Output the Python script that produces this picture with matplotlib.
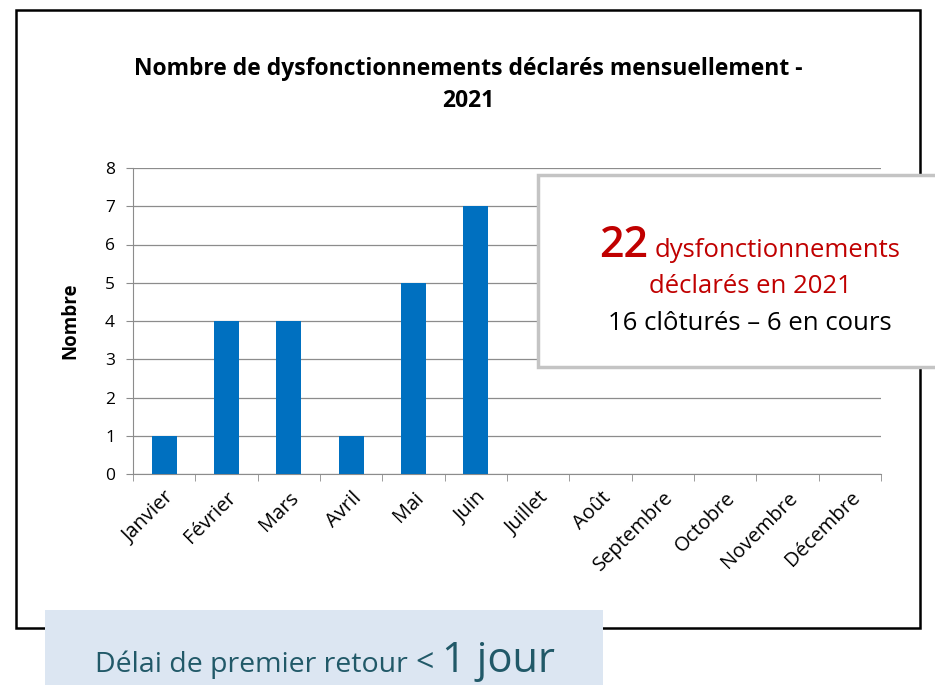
import numpy as np
import matplotlib.pyplot as plt
from matplotlib.patches import Rectangle

mois = ["Janvier", "Février", "Mars", "Avril", "Mai", "Juin", "Juillet", "Août",
        "Septembre", "Octobre", "Novembre", "Décembre"]
nombre = [1, 4, 4, 1, 5, 7, 0, 0, 0, 0, 0, 0]
y_ticks = [0, 1, 2, 3, 4, 5, 6, 7, 8]

W, H = 935, 685
fig = plt.figure(figsize=(W / 100, H / 100), dpi=100)
plt.rcParams['font.family'] = ['Open Sans', 'DejaVu Sans']

def fx(px):
    return px / W

def fy(py):
    return 1 - py / H

# cadre du graphique
fig.patches.append(Rectangle((fx(16), fy(628)), fx(920) - fx(16), fy(10) - fy(628),
                             transform=fig.transFigure, fill=False, edgecolor='black', lw=1.8))

ax = fig.add_axes([fx(133), fy(474), fx(881) - fx(133), fy(168) - fy(474)])
x = np.arange(len(mois))
ax.bar(x, nombre, width=0.40, color='#0070C0', zorder=3)
ax.set_xlim(-0.5, len(mois) - 0.5)
ax.set_ylim(0, 8)
ax.set_yticks(y_ticks)
ax.set_yticklabels([str(v) for v in y_ticks], fontsize=12.5)
ax.yaxis.grid(True, color='#8c8c8c', lw=0.9, zorder=0)
ax.set_xticks(x)
ax.set_xticklabels(mois, rotation=45, ha='right', rotation_mode='anchor', fontsize=14.5)
ax.set_xticks(np.arange(-0.5, len(mois)), minor=True)
ax.tick_params(axis='x', which='major', length=0, pad=10)
ax.tick_params(axis='x', which='minor', length=5, color='#8c8c8c')
ax.tick_params(axis='y', length=5, color='#8c8c8c', pad=8)
for s in ['top', 'right']:
    ax.spines[s].set_visible(False)
ax.spines['left'].set_color('#8c8c8c')
ax.spines['bottom'].set_color('#8c8c8c')
ax.set_ylabel("Nombre", fontsize=13.5, fontweight='bold', labelpad=18)

fig.text(fx(468), fy(69), "Nombre de dysfonctionnements déclarés mensuellement -",
         ha='center', va='center', fontsize=16.5, fontweight='bold')
fig.text(fx(468), fy(101), "2021", ha='center', va='center', fontsize=16.5, fontweight='bold')

# encadré de synthèse
fig.patches.append(Rectangle((fx(538), fy(367)), fx(940) - fx(538), fy(175) - fy(367),
                             transform=fig.transFigure, facecolor='white',
                             edgecolor='#c4c4c4', lw=2.5, zorder=5))

renderer = fig.canvas.get_renderer()

def place_line(parts, cx, cy, gap=7):
    texts = []
    for txt, size, color, weight in parts:
        t = fig.text(0, fy(cy), txt, fontsize=size, color=color, ha='left',
                     va='baseline', fontweight=weight, zorder=10)
        texts.append(t)
    widths = [t.get_window_extent(renderer).width for t in texts]
    total = sum(widths) + gap * (len(widths) - 1)
    left = cx - total / 2
    for t, w in zip(texts, widths):
        t.set_x(fx(left))
        left += w + gap

red = '#C00000'
place_line([("22", 31, red, 'semibold'), ("dysfonctionnements", 18.5, red, 'medium')], 750, 257)
place_line([("déclarés en 2021", 18.5, red, 'medium')], 750, 293)
place_line([("16 clôturés – 6 en cours", 18.5, 'black', 'medium')], 750, 330)

# bandeau du bas
fig.patches.append(Rectangle((fx(45), fy(685)), fx(603) - fx(45), fy(610) - fy(685),
                             transform=fig.transFigure, facecolor='#DCE6F2',
                             edgecolor='none', zorder=5))
teal = '#215968'
place_line([("Délai de premier retour", 20.5, teal, 'medium'), ("<", 23, teal, 'medium'),
            ("1 jour", 30, teal, 'medium')], 325, 672, gap=8)

fig.savefig("out.png", dpi=100)
